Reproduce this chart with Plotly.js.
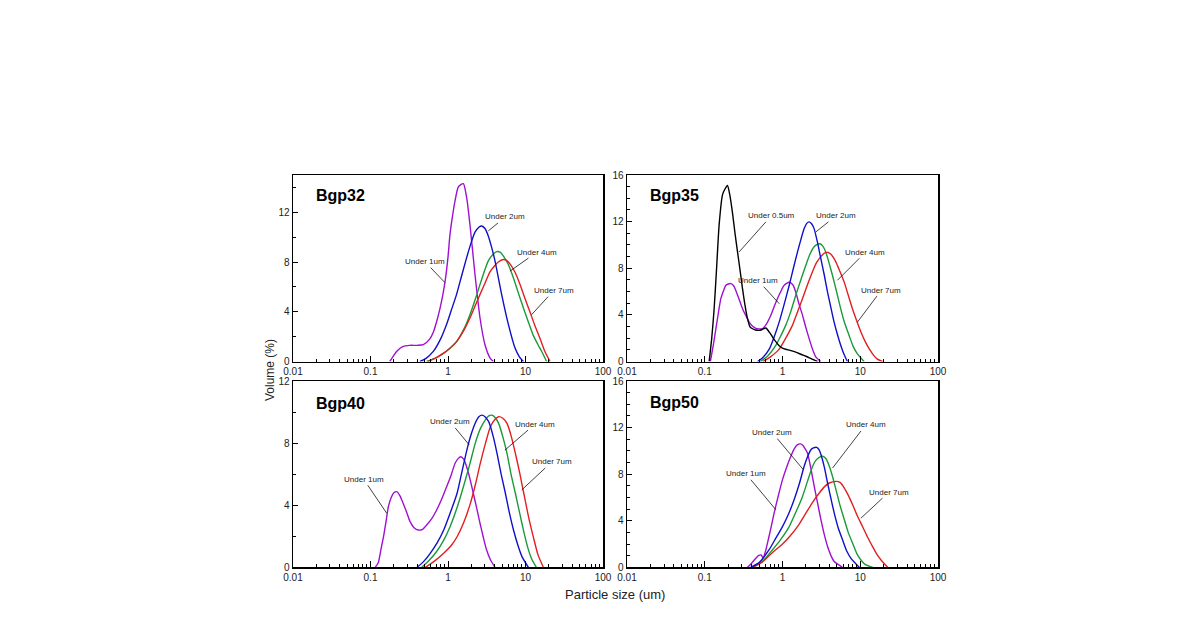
<!DOCTYPE html>
<html><head><meta charset="utf-8">
<script src="https://cdn.plot.ly/plotly-3.0.1.min.js"></script>
<style>html,body{margin:0;padding:0;background:#fff}#chart{width:1190px;height:625px}</style>
</head><body><div id="chart"></div>
<script>
// ---------- Data ----------
const xTickVals = [0.01, 0.1, 1, 10, 100];
const xTickText = ['0.01', '0.1', '1', '10', '100'];
const panelNames = ['Bgp32', 'Bgp35', 'Bgp40', 'Bgp50'];

// Bgp32
const b32_u1_x = [0.177,0.2,0.22,0.26,0.32,0.4,0.48,0.58,0.65,0.72,0.79,0.86,0.92,1.0,1.06,1.15,1.23,1.35,1.45,1.58,1.74,1.92,2.23,2.59,3.0,3.48,3.85];
const b32_u1_y = [0,0.5,0.85,1.2,1.3,1.3,1.35,1.8,2.4,3.3,4.3,5.4,6.5,8.4,10.2,11.8,12.9,14.0,14.2,14.3,13.2,11.0,7.0,3.5,1.35,0.3,0];
const b32_u2_x = [0.435,0.52,0.646,0.8,0.96,1.1,1.29,1.5,1.74,2.0,2.23,2.5,2.72,3.0,3.31,3.65,4.04,4.92,6.0,7.31,8.3,9.4];
const b32_u2_y = [0,0.25,0.81,1.8,3.0,4.1,5.4,6.9,8.35,9.6,10.4,10.8,10.9,10.7,10.1,9.2,8.1,5.4,3.0,1.1,0.4,0];
const b32_u4_x = [0.53,0.7,0.87,1.05,1.29,1.6,1.92,2.25,2.59,3.0,3.31,3.8,4.25,4.7,5.17,6.0,6.97,8.0,9.4,11.0,12.6,14.5,16.2,18.7];
const b32_u4_y = [0,0.3,0.65,1.05,1.6,2.6,3.77,5.0,6.2,7.4,8.1,8.6,8.84,8.8,8.5,7.8,6.74,5.6,4.3,3.1,2.1,1.35,0.8,0];
const b32_u7_x = [0.55,0.7,0.87,1.05,1.29,1.6,1.92,2.25,2.59,3.0,3.48,4.0,4.46,5.17,5.8,6.3,7.3,8.5,9.8,11.4,13.2,15.4,17.8,20.7];
const b32_u7_y = [0,0.3,0.65,1.05,1.6,2.5,3.5,4.5,5.4,6.3,7.2,7.7,8.0,8.2,8.1,7.85,7.2,6.2,5.1,4.0,2.9,1.85,0.8,0];

// Bgp35
const b35_u05_x = [0.114,0.123,0.132,0.142,0.153,0.169,0.182,0.196,0.21,0.227,0.245,0.264,0.285,0.306,0.33,0.355,0.38,0.412,0.45,0.5,0.55,0.61,0.68,0.745,0.82,0.906,1.0,1.1,1.25,1.48,1.75,2.0,2.4,2.82];
const b35_u05_y = [0,2.0,4.5,8.0,11.7,14.3,14.8,15.1,14.3,12.8,11.0,9.4,7.8,6.25,4.8,3.67,3.0,2.81,2.7,2.67,2.75,2.87,2.5,2.1,1.7,1.35,1.15,1.05,0.95,0.8,0.6,0.45,0.2,0];
const b35_u1_x = [0.118,0.128,0.139,0.15,0.161,0.175,0.187,0.2,0.217,0.235,0.251,0.278,0.306,0.34,0.373,0.41,0.454,0.5,0.553,0.62,0.708,0.78,0.863,0.95,1.05,1.22,1.35,1.48,1.62,1.81,2.0,2.2,2.45,2.68,3.1];
const b35_u1_y = [0,1.3,2.8,4.2,5.4,6.1,6.54,6.65,6.68,6.5,6.1,5.3,4.53,3.9,3.38,3.05,2.85,2.8,2.81,3.2,3.96,4.7,5.4,6.0,6.54,6.8,6.6,5.97,5.0,3.96,2.9,1.96,1.0,0.4,0];
const b35_u2_x = [0.477,0.56,0.675,0.78,0.906,1.05,1.22,1.38,1.56,1.73,1.9,2.05,2.2,2.38,2.55,2.8,3.11,3.45,3.79,4.2,4.61,5.1,5.62,6.2,6.84];
const b35_u2_y = [0,0.35,1.06,2.1,3.38,4.9,6.54,8.0,9.4,10.5,11.4,11.85,11.98,11.8,11.4,10.3,8.84,7.4,5.97,4.6,3.38,2.3,1.38,0.6,0];
const b35_u4_x = [0.52,0.65,0.82,0.95,1.1,1.28,1.48,1.72,2.0,2.25,2.55,2.8,3.02,3.3,3.6,3.95,4.39,5.0,5.62,6.3,7.19,8.1,9.2,11.2];
const b35_u4_y = [0,0.5,1.38,2.2,3.1,4.3,5.68,7.0,8.27,9.2,9.85,10.05,10.1,9.9,9.4,8.5,7.4,5.9,4.5,3.3,2.24,1.3,0.66,0];
const b35_u7_x = [0.56,0.7,0.906,1.1,1.34,1.55,1.81,2.1,2.43,2.75,3.11,3.45,3.85,4.2,4.85,5.5,6.2,7.0,7.94,9.0,10.2,11.5,13.0,14.8,16.6,19.3];
const b35_u7_y = [0,0.4,1.06,2.0,3.1,4.2,5.4,6.6,7.7,8.5,9.0,9.3,9.35,9.2,8.55,7.7,6.83,5.7,4.53,3.5,2.53,1.75,1.1,0.55,0.2,0];

// Bgp40
const b40_u1_x = [0.115,0.126,0.137,0.147,0.158,0.17,0.185,0.2,0.218,0.24,0.265,0.295,0.324,0.365,0.414,0.47,0.53,0.62,0.714,0.83,0.96,1.1,1.23,1.35,1.46,1.6,1.74,1.92,2.12,2.35,2.59,2.85,3.15,3.55,4.04];
const b40_u1_y = [0,0.3,1.2,1.96,2.9,3.9,4.5,4.8,4.87,4.6,4.1,3.5,2.94,2.55,2.4,2.45,2.72,3.15,3.69,4.4,5.19,5.95,6.69,7.0,7.12,6.95,6.48,5.7,4.77,3.8,2.83,1.95,1.11,0.45,0];
const b40_u2_x = [0.4,0.48,0.59,0.73,0.88,1.05,1.31,1.52,1.76,2.0,2.25,2.5,2.75,3.0,3.35,3.8,4.29,4.85,5.5,6.2,7.0,8.0,9.0,10.9];
const b40_u2_y = [0,0.35,0.9,1.6,2.4,3.4,4.77,6.2,7.6,8.6,9.3,9.7,9.8,9.7,9.38,8.5,7.34,6.0,4.77,3.5,2.4,1.4,0.69,0];
const b40_u4_x = [0.46,0.56,0.71,0.87,1.06,1.3,1.58,1.9,2.25,2.6,3.03,3.35,3.7,4.05,4.5,5.1,5.77,6.5,7.4,8.4,9.5,10.8,12.1,13.8];
const b40_u4_y = [0,0.4,1.0,1.7,2.6,3.8,5.19,6.6,8.0,8.9,9.5,9.75,9.8,9.65,9.27,8.4,7.34,6.0,4.77,3.5,2.3,1.2,0.5,0];
const b40_u7_x = [0.51,0.65,0.88,1.1,1.31,1.6,1.94,2.25,2.61,3.05,3.52,4.0,4.5,5.1,5.77,6.5,7.4,8.4,9.5,11.0,12.7,14.5,17.0];
const b40_u7_y = [0,0.35,0.9,1.4,1.97,2.9,4.1,5.3,6.69,8.0,9.05,9.5,9.7,9.6,9.27,8.5,7.34,6.1,4.77,3.2,1.9,0.8,0];

// Bgp50
const b50_u1_x = [0.355,0.4,0.454,0.49,0.53,0.565,0.6,0.64,0.7,0.78,0.88,1.0,1.13,1.28,1.42,1.56,1.7,1.81,1.95,2.1,2.3,2.56,2.85,3.12,3.45,3.8,4.2,4.63,5.9];
const b50_u1_y = [0,0.35,0.77,1.0,1.06,0.8,1.3,2.06,3.2,4.65,6.1,7.53,8.6,9.54,10.2,10.54,10.6,10.5,10.2,9.8,8.6,6.96,5.4,4.09,2.8,1.78,1.0,0.49,0];
const b50_u2_x = [0.39,0.5,0.67,0.82,1.0,1.2,1.41,1.65,1.9,2.1,2.32,2.5,2.75,2.95,3.12,3.45,3.8,4.2,4.63,5.2,5.93,6.7,7.6,9.7];
const b50_u2_y = [0,0.4,1.49,2.5,3.5,4.6,5.8,7.2,8.68,9.5,10.1,10.25,10.3,10.1,9.68,8.6,7.24,5.9,4.65,3.4,2.35,1.4,0.77,0];
const b50_u4_x = [0.41,0.55,0.74,0.95,1.22,1.5,1.81,2.1,2.44,2.7,2.97,3.3,3.65,4.0,4.4,4.87,5.5,6.24,7.0,7.98,9.0,10.2,11.5,14.5];
const b50_u4_y = [0,0.5,1.49,2.4,3.5,4.8,6.09,7.4,8.68,9.2,9.45,9.54,9.3,8.68,7.8,6.67,5.3,4.09,3.0,2.06,1.2,0.63,0.25,0];
const b50_u7_x = [0.41,0.55,0.74,1.0,1.22,1.6,2.0,2.45,2.97,3.5,4.0,4.87,5.5,6.24,7.0,7.98,9.2,10.7,12.4,14.4,16.4,18.5,22.5];
const b50_u7_y = [0,0.45,1.25,2.0,2.6,3.6,4.65,5.6,6.38,6.95,7.24,7.38,7.3,6.81,6.2,5.37,4.4,3.5,2.6,1.78,1.1,0.63,0];

// ---------- Styling ----------
const C = {u05:'#000000', u1:'#a010d0', u2:'#1010c8', u4:'#1a9a3a', u7:'#e02020'};
const FONT = 'Liberation Sans, Arial, sans-serif';

function tr(x, y, color, n){
  return {x:x, y:y, type:'scatter', mode:'lines', hoverinfo:'skip',
    line:{color:color, width:1.4, shape:'spline', smoothing:0.6},
    xaxis:'x'+(n===1?'':n), yaxis:'y'+(n===1?'':n)};
}

const data = [
  tr(b32_u1_x,b32_u1_y,C.u1,1), tr(b32_u4_x,b32_u4_y,C.u4,1), tr(b32_u7_x,b32_u7_y,C.u7,1), tr(b32_u2_x,b32_u2_y,C.u2,1),
  tr(b35_u1_x,b35_u1_y,C.u1,2), tr(b35_u4_x,b35_u4_y,C.u4,2), tr(b35_u7_x,b35_u7_y,C.u7,2), tr(b35_u2_x,b35_u2_y,C.u2,2), tr(b35_u05_x,b35_u05_y,C.u05,2),
  tr(b40_u1_x,b40_u1_y,C.u1,3), tr(b40_u4_x,b40_u4_y,C.u4,3), tr(b40_u7_x,b40_u7_y,C.u7,3), tr(b40_u2_x,b40_u2_y,C.u2,3),
  tr(b50_u1_x,b50_u1_y,C.u1,4), tr(b50_u4_x,b50_u4_y,C.u4,4), tr(b50_u7_x,b50_u7_y,C.u7,4), tr(b50_u2_x,b50_u2_y,C.u2,4)
];

// minor tick positions on the log axis (2..9 within each decade)
const minorX = [];
for (let d = -2; d < 2; d++) for (let m = 2; m <= 9; m++) minorX.push(m * Math.pow(10, d));

function xax(domain, anchor){
  return {domain:domain, anchor:anchor, type:'log', range:[-2,2],
    tickmode:'array', tickvals:xTickVals, ticktext:xTickText,
    ticks:'inside', ticklen:6, tickwidth:1, tickcolor:'#000',
    minor:{tickmode:'array', tickvals:minorX, ticks:'inside', ticklen:3, tickwidth:1, tickcolor:'#000', showgrid:false},
    showline:true, mirror:true, linecolor:'#000', linewidth:1.5,
    showgrid:false, zeroline:false,
    tickfont:{family:FONT, size:10, color:'#222'}};
}
function yax(domain, anchor, top, minorStep){
  return {domain:domain, anchor:anchor, range:[0,top],
    tickmode:'linear', tick0:0, dtick:4,
    ticks:'inside', ticklen:5, tickwidth:1, tickcolor:'#000',
    minor:{tick0:0, dtick:minorStep, ticks:'inside', ticklen:3, tickwidth:1, tickcolor:'#000', showgrid:false},
    showline:true, mirror:true, linecolor:'#000', linewidth:1.5,
    showgrid:false, zeroline:false,
    tickfont:{family:FONT, size:10, color:'#222'}};
}

const W = 1190, H = 625;
const dx1 = [293/W, 603/W], dx2 = [627/W, 938/W];
const dyT = [1-361.5/H, 1-175/H], dyB = [1-567.3/H, 1-381/H];

function lab(text, xr, yr, xv, yv, ax, ay){
  return {text:text, xref:xr, yref:yr, x:Math.log10(xv), y:yv, ax:ax, ay:ay,
    showarrow:true, arrowhead:0, arrowwidth:0.8, arrowcolor:'#111', standoff:0, startstandoff:0,
    font:{family:FONT, size:8, color:'#222'}};
}
function pname(text, x, y){
  return {text:'<b>'+text+'</b>', xref:'paper', yref:'paper', x:x, y:y, xanchor:'left', yanchor:'middle',
    showarrow:false, font:{family:FONT, size:16, color:'#000'}};
}

const annotations = [
  pname(panelNames[0], 314/W, 1-195/H), pname(panelNames[1], 648/W, 1-195/H),
  pname(panelNames[2], 314/W, 1-403/H), pname(panelNames[3], 648/W, 1-402/H),
  lab('Under 1um','x','y',0.914,6.34,-20,-21),
  lab('Under 2um','x','y',3.31,10.5,17,-14),
  lab('Under 4um','x','y',6.3,7.27,27,-19),
  lab('Under 7um','x','y',12.0,3.77,22,-24),
  lab('Under 0.5um','x2','y2',0.277,9.4,32,-36),
  lab('Under 2um','x2','y2',2.69,11.12,20,-16),
  lab('Under 4um','x2','y2',5.09,6.97,28,-28),
  lab('Under 7um','x2','y2',9.2,3.38,24,-32),
  lab('Under 1um','x2','y2',0.908,4.96,-21,-23),
  lab('Under 1um','x3','y3',0.162,3.48,-23,-34),
  lab('Under 2um','x3','y3',1.88,7.88,-19,-23),
  lab('Under 4um','x3','y3',5.43,7.55,30,-26),
  lab('Under 7um','x3','y3',8.93,4.98,30,-28),
  lab('Under 2um','x4','y4',1.85,8.39,-31,-37),
  lab('Under 1um','x4','y4',0.822,4.94,-30,-36),
  lab('Under 4um','x4','y4',4.41,8.53,33,-43),
  lab('Under 7um','x4','y4',10.2,4.22,28,-26),
  {text:'Volume (%)', xref:'paper', yref:'paper', x:270/W, y:1-370/H, showarrow:false, textangle:-90,
   xanchor:'center', yanchor:'middle', font:{family:FONT, size:12, color:'#222'}},
  {text:'Particle size (um)', xref:'paper', yref:'paper', x:615/W, y:1-594/H, showarrow:false,
   xanchor:'center', yanchor:'middle', font:{family:FONT, size:13, color:'#222'}}
];

const layout = {
  width:W, height:H, margin:{l:0,r:0,t:0,b:0},
  paper_bgcolor:'#fff', plot_bgcolor:'#fff', showlegend:false,
  xaxis:xax(dx1,'y'), yaxis:yax(dyT,'x',15,2),
  xaxis2:xax(dx2,'y2'), yaxis2:yax(dyT,'x2',16,1),
  xaxis3:xax(dx1,'y3'), yaxis3:yax(dyB,'x3',12,2),
  xaxis4:xax(dx2,'y4'), yaxis4:yax(dyB,'x4',16,1),
  annotations:annotations
};

Plotly.newPlot('chart', data, layout, {staticPlot:true, displayModeBar:false});
</script>
</body></html>
